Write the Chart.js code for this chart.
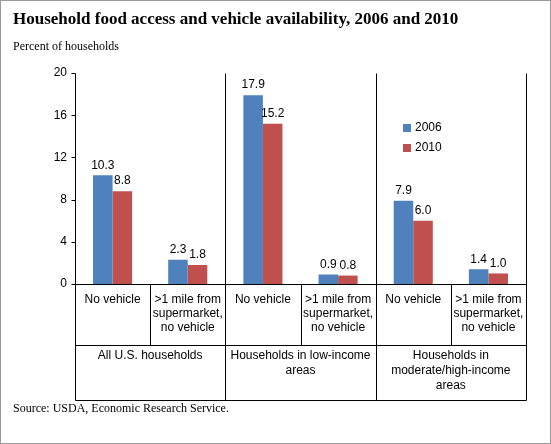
<!DOCTYPE html>
<html><head><meta charset="utf-8">
<script src="https://cdn.jsdelivr.net/npm/chart.js@4"></script>
<style>html,body{margin:0;padding:0;background:#fff}#w{width:551px;height:444px;position:relative}</style>
</head><body><div id="w"><canvas id="c" width="551" height="444"></canvas></div>
<script>
const categories = [["No vehicle"], [">1 mile from","supermarket,","no vehicle"], ["No vehicle"], [">1 mile from","supermarket,","no vehicle"], ["No vehicle"], [">1 mile from","supermarket,","no vehicle"]];
const groups = [["All U.S. households"], ["Households in low-income","areas"], ["Households in","moderate/high-income","areas"]];
const series2006 = [10.3, 2.3, 17.9, 0.9, 7.9, 1.4];
const series2010 = [8.8, 1.8, 15.2, 0.8, 6.0, 1.0];
const yTicks = [0, 4, 8, 12, 16, 20];
const SANS = '"Liberation Sans", Arial, sans-serif';
const SERIF = '"Liberation Serif", "Times New Roman", serif';
const C06 = '#4F81BD', C10 = '#C0504D';

const deco = {
  id: 'deco',
  afterDraw(chart) {
    const ctx = chart.ctx, a = chart.chartArea;
    const bottom = 400, mid = 345;
    ctx.save();
    ctx.strokeStyle = '#000'; ctx.lineWidth = 1;
    const L = Math.round(a.left)+0.5, R = Math.round(a.right)+0.5, T = Math.round(a.top)+0.5, B = Math.round(a.bottom)+0.5;
    ctx.beginPath();
    ctx.moveTo(L, T); ctx.lineTo(L, bottom+0.5); ctx.lineTo(R, bottom+0.5); ctx.lineTo(R, T);
    ctx.moveTo(L, B); ctx.lineTo(R, B);
    ctx.moveTo(L, mid+0.5); ctx.lineTo(R, mid+0.5);
    yTicks.forEach(v => { const yy = Math.round(chart.scales.y.getPixelForValue(v))+0.5; ctx.moveTo(L-4, yy); ctx.lineTo(L, yy); });
    const w = (a.right - a.left) / categories.length;
    for (let i = 1; i < categories.length; i++) {
      const xx = Math.round(a.left + i*w)+0.5;
      if (i % 2 === 0) { ctx.moveTo(xx, T); ctx.lineTo(xx, bottom); }
      else { ctx.moveTo(xx, B); ctx.lineTo(xx, mid); }
    }
    ctx.stroke();
    ctx.fillStyle = '#000'; ctx.font = '12px ' + SANS; ctx.textAlign = 'center'; ctx.textBaseline = 'middle';
    groups.forEach((g, i) => {
      const cx = a.left + (2*i+1)*w;
      g.forEach((ln, j) => ctx.fillText(ln, cx, 356 + j*15));
    });
    [series2006, series2010].forEach((s, di) => {
      const meta = chart.getDatasetMeta(di);
      meta.data.forEach((bar, i) => {
        ctx.textBaseline = 'bottom';
        ctx.fillText(s[i].toFixed(1), bar.x, bar.y - 4);
      });
    });
    ctx.textAlign = 'left'; ctx.textBaseline = 'middle';
    [[C06, '2006', 128], [C10, '2010', 148]].forEach(([c, t, y]) => {
      ctx.fillStyle = c; ctx.fillRect(403, y-4, 8, 8);
      ctx.fillStyle = '#000'; ctx.fillText(t, 415, y);
    });
    ctx.font = 'bold 17px ' + SERIF; ctx.fillText('Household food access and vehicle availability, 2006 and 2010', 13, 20);
    ctx.font = '12px ' + SERIF; ctx.fillText('Percent of households', 13, 47);
    ctx.fillText('Source: USDA, Economic Research Service.', 13, 409);
    ctx.strokeStyle = '#999'; ctx.strokeRect(0.5, 0.5, 550, 443);
    ctx.restore();
  }
};

new Chart(document.getElementById('c'), {
  type: 'bar',
  data: { labels: categories, datasets: [
    { label: '2006', data: series2006, backgroundColor: C06 },
    { label: '2010', data: series2010, backgroundColor: C10 }
  ]},
  options: {
    responsive: false, animation: false, devicePixelRatio: 1,
    layout: { padding: { left: 40, right: 15, top: 73, bottom: 44 } },
    datasets: { bar: { categoryPercentage: 0.52, barPercentage: 1 } },
    plugins: { legend: { display: false }, tooltip: { enabled: false } },
    scales: {
      x: { grid: { display: false, drawTicks: false }, border: { display: false },
           ticks: { color: '#000', font: { family: SANS, size: 12 }, maxRotation: 0, autoSkip: false, padding: 8 },
           afterFit: s => { s.height = 116; } },
      y: { min: 0, max: 20, afterBuildTicks: s => { s.ticks = yTicks.map(v => ({ value: v })); },
           grid: { display: false, drawTicks: false }, border: { display: false },
           ticks: { color: '#000', font: { family: SANS, size: 12 }, padding: 8 },
           afterFit: s => { s.width = 35; } }
    }
  },
  plugins: [deco, { id: 'rp', beforeLayout(c) { c.options.layout.padding.right = 25; } }]
});
</script></body></html>
